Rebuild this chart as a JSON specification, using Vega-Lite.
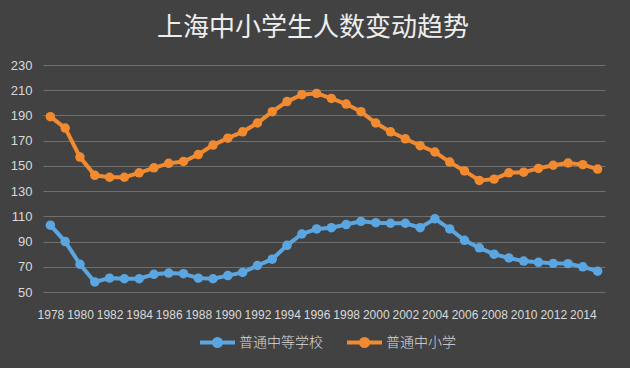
{
  "$schema": "https://vega.github.io/schema/vega-lite/v6.json",
  "width": 562,
  "height": 227,
  "autosize": {"type": "none"},
  "padding": {"left": 43, "top": 65, "right": 25, "bottom": 76},
  "background": "#424242",
  "title": {
    "text": "上海中小学生人数变动趋势",
    "font": "Noto Sans CJK SC",
    "fontSize": 26,
    "fontWeight": "normal",
    "color": "#eeeeee",
    "anchor": "middle",
    "offset": 18,
    "dx": -11
  },
  "config": {
    "view": {"stroke": null},
    "font": "Noto Sans CJK SC"
  },
  "data": {
    "values": [
      {"year": 1978, "series": "普通中等学校", "value": 103},
      {"year": 1979, "series": "普通中等学校", "value": 90},
      {"year": 1980, "series": "普通中等学校", "value": 72},
      {"year": 1981, "series": "普通中等学校", "value": 58},
      {"year": 1982, "series": "普通中等学校", "value": 61},
      {"year": 1983, "series": "普通中等学校", "value": 60.5},
      {"year": 1984, "series": "普通中等学校", "value": 60.5},
      {"year": 1985, "series": "普通中等学校", "value": 64},
      {"year": 1986, "series": "普通中等学校", "value": 65},
      {"year": 1987, "series": "普通中等学校", "value": 64.5},
      {"year": 1988, "series": "普通中等学校", "value": 61},
      {"year": 1989, "series": "普通中等学校", "value": 60.5},
      {"year": 1990, "series": "普通中等学校", "value": 63},
      {"year": 1991, "series": "普通中等学校", "value": 65.5},
      {"year": 1992, "series": "普通中等学校", "value": 71},
      {"year": 1993, "series": "普通中等学校", "value": 76},
      {"year": 1994, "series": "普通中等学校", "value": 87},
      {"year": 1995, "series": "普通中等学校", "value": 96},
      {"year": 1996, "series": "普通中等学校", "value": 100},
      {"year": 1997, "series": "普通中等学校", "value": 101},
      {"year": 1998, "series": "普通中等学校", "value": 103.5},
      {"year": 1999, "series": "普通中等学校", "value": 106},
      {"year": 2000, "series": "普通中等学校", "value": 105},
      {"year": 2001, "series": "普通中等学校", "value": 104.5},
      {"year": 2002, "series": "普通中等学校", "value": 104.5},
      {"year": 2003, "series": "普通中等学校", "value": 101},
      {"year": 2004, "series": "普通中等学校", "value": 108},
      {"year": 2005, "series": "普通中等学校", "value": 100},
      {"year": 2006, "series": "普通中等学校", "value": 91},
      {"year": 2007, "series": "普通中等学校", "value": 85},
      {"year": 2008, "series": "普通中等学校", "value": 80},
      {"year": 2009, "series": "普通中等学校", "value": 77},
      {"year": 2010, "series": "普通中等学校", "value": 74.5},
      {"year": 2011, "series": "普通中等学校", "value": 73.5},
      {"year": 2012, "series": "普通中等学校", "value": 72.7},
      {"year": 2013, "series": "普通中等学校", "value": 72.5},
      {"year": 2014, "series": "普通中等学校", "value": 70},
      {"year": 2015, "series": "普通中等学校", "value": 66.5},
      {"year": 1978, "series": "普通中小学", "value": 189},
      {"year": 1979, "series": "普通中小学", "value": 180},
      {"year": 1980, "series": "普通中小学", "value": 157},
      {"year": 1981, "series": "普通中小学", "value": 142.5},
      {"year": 1982, "series": "普通中小学", "value": 141},
      {"year": 1983, "series": "普通中小学", "value": 141},
      {"year": 1984, "series": "普通中小学", "value": 144.5},
      {"year": 1985, "series": "普通中小学", "value": 148.5},
      {"year": 1986, "series": "普通中小学", "value": 152},
      {"year": 1987, "series": "普通中小学", "value": 153.5},
      {"year": 1988, "series": "普通中小学", "value": 159},
      {"year": 1989, "series": "普通中小学", "value": 166.5},
      {"year": 1990, "series": "普通中小学", "value": 172},
      {"year": 1991, "series": "普通中小学", "value": 177},
      {"year": 1992, "series": "普通中小学", "value": 184},
      {"year": 1993, "series": "普通中小学", "value": 193},
      {"year": 1994, "series": "普通中小学", "value": 201},
      {"year": 1995, "series": "普通中小学", "value": 206.5},
      {"year": 1996, "series": "普通中小学", "value": 207.5},
      {"year": 1997, "series": "普通中小学", "value": 203.5},
      {"year": 1998, "series": "普通中小学", "value": 199},
      {"year": 1999, "series": "普通中小学", "value": 193},
      {"year": 2000, "series": "普通中小学", "value": 184},
      {"year": 2001, "series": "普通中小学", "value": 177},
      {"year": 2002, "series": "普通中小学", "value": 171.5},
      {"year": 2003, "series": "普通中小学", "value": 166},
      {"year": 2004, "series": "普通中小学", "value": 161},
      {"year": 2005, "series": "普通中小学", "value": 153},
      {"year": 2006, "series": "普通中小学", "value": 146},
      {"year": 2007, "series": "普通中小学", "value": 138.5},
      {"year": 2008, "series": "普通中小学", "value": 139.5},
      {"year": 2009, "series": "普通中小学", "value": 144.5},
      {"year": 2010, "series": "普通中小学", "value": 145},
      {"year": 2011, "series": "普通中小学", "value": 148},
      {"year": 2012, "series": "普通中小学", "value": 150.5},
      {"year": 2013, "series": "普通中小学", "value": 152.3},
      {"year": 2014, "series": "普通中小学", "value": 151},
      {"year": 2015, "series": "普通中小学", "value": 147.5}
    ]
  },
  "mark": {
    "type": "line",
    "strokeWidth": 4,
    "point": {"filled": true, "size": 90, "opacity": 1}
  },
  "encoding": {
    "x": {
      "field": "year",
      "type": "quantitative",
      "scale": {"domain": [1977.5, 2015.5], "nice": false, "zero": false},
      "axis": {
        "values": [1978, 1980, 1982, 1984, 1986, 1988, 1990, 1992, 1994, 1996, 1998, 2000, 2002, 2004, 2006, 2008, 2010, 2012, 2014],
        "format": "d",
        "title": null,
        "grid": false,
        "domain": false,
        "ticks": false,
        "labelFont": "Liberation Sans",
        "labelFontSize": 12,
        "labelColor": "#d9d9d9",
        "labelPadding": 17,
        "labelFlush": false,
        "labelOverlap": false
      }
    },
    "y": {
      "field": "value",
      "type": "quantitative",
      "scale": {"domain": [50, 230], "nice": false, "zero": false},
      "axis": {
        "values": [50, 70, 90, 110, 130, 150, 170, 190, 210, 230],
        "title": null,
        "domain": false,
        "ticks": false,
        "gridColor": "#6e6e6e",
        "gridWidth": 1,
        "labelFont": "Liberation Sans",
        "labelFontSize": 13,
        "labelColor": "#d9d9d9",
        "labelPadding": 11
      }
    },
    "color": {
      "field": "series",
      "type": "nominal",
      "scale": {"domain": ["普通中等学校", "普通中小学"], "range": ["#5ba6e0", "#f28a30"]},
      "legend": {
        "title": null,
        "orient": "none",
        "direction": "horizontal",
        "legendX": 155,
        "legendY": 258,
        "labelFont": "Noto Sans CJK SC",
        "labelFontSize": 14,
        "labelFontWeight": 300,
        "labelColor": "#d9d9d9",
        "symbolType": "M-1,0L1,0M-0.2,0A0.2,0.2 0 1 1 0.2,0A0.2,0.2 0 1 1 -0.2,0",
        "symbolSize": 1225,
        "symbolStrokeWidth": 4,
        "labelOffset": 2,
        "columnPadding": 16
      }
    }
  }
}
